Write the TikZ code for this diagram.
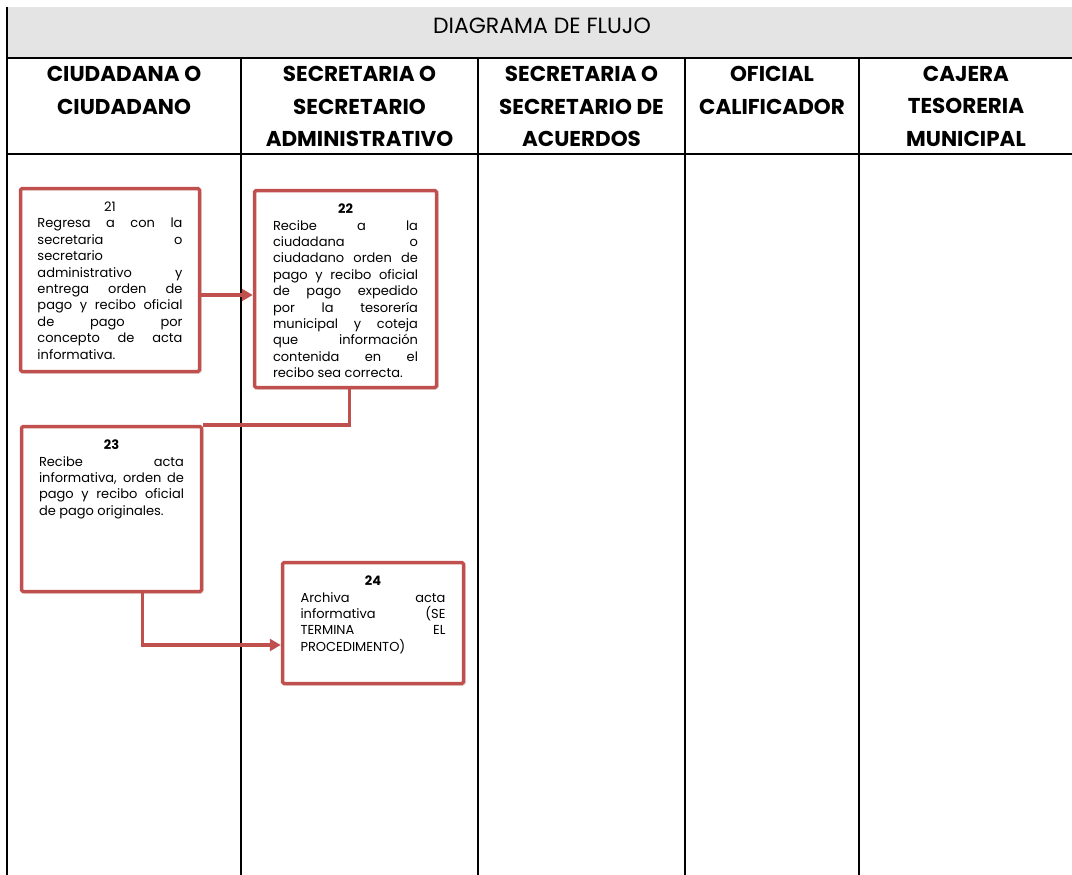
\documentclass[tikz,border=0pt]{standalone}
\usepackage{fontspec}
\setmainfont{Poppins}
\usetikzlibrary{arrows.meta,shadows}
\definecolor{rojocaja}{RGB}{192,80,77}
\definecolor{grisencabezado}{RGB}{228,228,228}

\begin{document}
\begin{tikzpicture}[x=1pt,y=-1pt,>={Triangle[length=11pt,width=12pt]},
		paso/.style={draw=rojocaja, line width=3.5pt, fill=white, rounded corners=1.5pt,
			drop shadow={shadow xshift=2pt, shadow yshift=-2pt, opacity=0.25}},
		textopaso/.style={anchor=north, inner sep=0pt, text width=145pt, align=justify,
			font=\fontsize{13}{16.4}\selectfont},
		carril/.style={anchor=north, inner sep=0pt, align=center,
			font=\bfseries\fontsize{21.5}{32.5}\selectfont},
		linea/.style={draw=rojocaja, line width=3.5pt}]
	\useasboundingbox (0,0) rectangle (1072,875);
	\begin{scope}
		\fill[grisencabezado] (7,7) rectangle (1072,58);
		\draw[line width=1.2pt] (7,7) -- (7,875);
		\draw[line width=1.2pt] (7,58) -- (1072,58) (7,154) -- (1072,154);
	\end{scope}
	\foreach \x in {241,478,685,859} {
			\draw[line width=1.2pt] (\x,58) -- (\x,875);
		}
	\node[font=\fontsize{22}{24}\selectfont] (titulo) at (542,26) {DIAGRAMA DE FLUJO};

	\node[carril] (h1) at (124,66) {CIUDADANA O\\CIUDADANO};
	\node[carril] (h2) at (359.5,66) {SECRETARIA O\\SECRETARIO\\ADMINISTRATIVO};
	\node[carril] (h3) at (581.5,66) {SECRETARIA O\\SECRETARIO DE\\ACUERDOS};
	\node[carril] (h4) at (772,66) {OFICIAL\\CALIFICADOR};
	\node[carril] (h5) at (966,66) {CAJERA\\TESORERIA\\MUNICIPAL};

	\node[paso, minimum width=179pt, minimum height=183pt] (p21) at (110,280) {};
	\node[paso, minimum width=182pt, minimum height=197pt] (p22) at (345.5,289) {};
	\node[paso, minimum width=180pt, minimum height=165pt] (p23) at (111.5,509) {};
	\node[paso, minimum width=181pt, minimum height=121pt] (p24) at (373,623) {};

	\node[textopaso] (t21) at ([yshift=-15pt]p21.north) {\hspace*{\fill}21\hspace*{\fill}\linebreak
		Regresa a con la\linebreak secretaria o\linebreak secretario\linebreak
		administrativo y\linebreak entrega orden de\linebreak pago y recibo oficial\linebreak
		de pago por\linebreak concepto de acta\linebreak informativa.};
	\node[textopaso] (t22) at ([yshift=-15pt]p22.north) {\hspace*{\fill}\textbf{22}\hspace*{\fill}\linebreak
		Recibe a la\linebreak ciudadana o\linebreak ciudadano orden de\linebreak
		pago y recibo oficial\linebreak de pago expedido\linebreak por la tesorería\linebreak
		municipal y coteja\linebreak que información\linebreak contenida en el\linebreak
		recibo sea correcta.};
	\node[textopaso] (t23) at ([yshift=-15pt]p23.north) {\hspace*{\fill}\textbf{23}\hspace*{\fill}\linebreak
		Recibe acta\linebreak informativa, orden de\linebreak pago y recibo oficial\linebreak
		de pago originales.};
	\node[textopaso] (t24) at ([yshift=-15pt]p24.north) {\hspace*{\fill}\textbf{24}\hspace*{\fill}\linebreak
		Archiva acta\linebreak informativa (SE\linebreak TERMINA EL\linebreak
		PROCEDIMENTO)};

	\coordinate (s21) at ([yshift=-15pt]p21.east);
	\draw[linea, ->] (s21) -- (s21 -| p22.west);
	\draw[linea] ([xshift=4pt]p22.south) |- (p23.north east);
	\draw[linea, ->] ([xshift=31pt]p23.south) |- ([yshift=-22pt]p24.west);
\end{tikzpicture}
\end{document}
